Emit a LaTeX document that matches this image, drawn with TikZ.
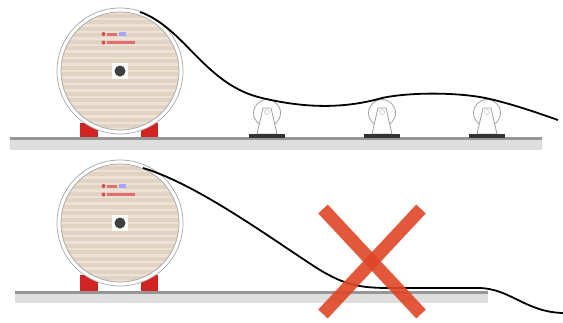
\documentclass[tikz,border=0pt]{standalone}
\usepackage{tikz}
\usetikzlibrary{arrows}
\definecolor{legno}{RGB}{226,210,194}
\definecolor{legnochiaro}{RGB}{236,226,215}
\definecolor{rosso}{RGB}{210,34,34}
\definecolor{croce}{RGB}{224,70,38}
\definecolor{grigio}{RGB}{150,150,150}
\definecolor{grigiochiaro}{RGB}{222,222,222}

\begin{document}
\begin{tikzpicture}[x=1pt,y=-1pt,line join=round]
		\useasboundingbox (0,0) rectangle (563,322);
		% Pavimento
		\fill [grigiochiaro] (10,139) rectangle (542,150);
		\fill [grigio] (10,137) rectangle (542,140);
		\fill [grigiochiaro] (15,293) rectangle (488,303);
		\fill [grigio] (15,291) rectangle (488,294);
		
		% Bobine
		\foreach \yc/\yp in {71/137,223/291} {
			% Piedi
			\fill [rosso] (80,\yc+52) rectangle (98,\yp);
			\fill [rosso] (141,\yc+52) rectangle (158,\yp);
			% Flangia
			\draw [gray!70, line width=0.7pt, fill=white] (120,\yc) circle (63pt);
			\begin{scope}
				\clip (120,\yc) circle (59pt);
				\fill [legno] (120,\yc) circle (59pt);
				\foreach \s in {-60,-53.5,...,60}
					\fill [legnochiaro] (55,\yc+\s) rectangle (185,\yc+\s+2.6);
			\end{scope}
			\draw [gray!70, line width=0.7pt] (120,\yc) circle (59pt);
			% Mozzo
			\fill [white] (112,\yc-8) rectangle (128,\yc+8);
			\fill [black!75] (120,\yc) circle (5.5pt);
			% Marchio
			\fill [rosso!80] (103.5,\yc-37) circle (2pt);
			\fill [rosso!65] (107,\yc-38.5) rectangle (117,\yc-35.5);
			\fill [blue!35] (119,\yc-39) rectangle (126,\yc-35.5);
			\fill [rosso!80] (103.5,\yc-28.5) circle (2pt);
			\fill [rosso!65] (107,\yc-30) rectangle (135,\yc-27);
		}
		
		% Rulli
		\foreach \xr in {267,382,487} {
			\draw [gray!75, line width=0.8pt] (\xr,113) circle (13.5pt);
			\draw [gray!75, line width=0.8pt, fill=white] (\xr-4,108) -- (\xr+4,108) -- (\xr+10,134) -- (\xr-10,134) -- cycle;
			\draw [gray!60] (\xr,112) circle (2.5pt);
			\fill [black!80] (\xr-18,134) rectangle (\xr+18,138);
		}
		
		% Cavo sui rulli
		\draw [line width=1.8pt] (140,12) .. controls (185,28) and (205,85) .. (262,98)
			.. controls (300,107) and (340,110) .. (382,98)
			.. controls (410,92) and (460,92) .. (490,99)
			.. controls (515,105) and (535,112) .. (558,120);
		
		% Cavo a terra
		\draw [line width=1.8pt] (143,168) .. controls (200,185) and (280,245) .. (320,270)
			.. controls (345,285) and (360,288) .. (390,288)
			-- (478,288)
			.. controls (510,288) and (525,312) .. (563,313);
		
		% Croce
		\draw [croce, opacity=0.9, line width=13pt] (323,209) -- (421,314);
		\draw [croce, opacity=0.9, line width=13pt] (421,209) -- (323,314);
	\end{tikzpicture}
\end{document}
